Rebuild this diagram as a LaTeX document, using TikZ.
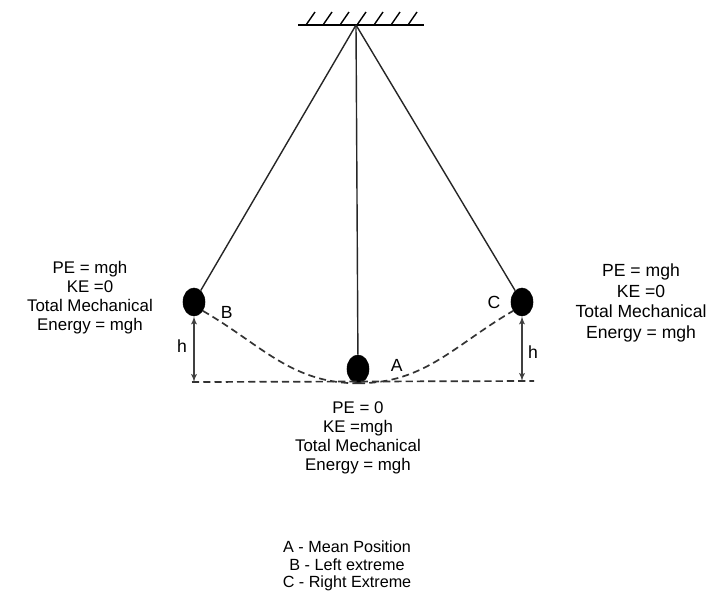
\documentclass[tikz,border=0pt]{standalone}
\usepackage{fontspec}
\setmainfont{Liberation Sans}
\usepackage{tikz}
\usetikzlibrary{shapes.geometric, arrows, positioning, calc}

\begin{document}
\begin{tikzpicture}[x=0.025cm, y=-0.025cm,
        bob/.style={ellipse, fill=black, draw=black, minimum width=0.55cm, minimum height=0.7cm, inner sep=0pt},
        infotext/.style={align=center, font=\fontsize{12}{13.5}\selectfont, inner sep=1pt},
        letter/.style={font=\fontsize{12.5}{14}\selectfont, inner sep=1pt},
        string/.style={draw=black!85, line width=1pt},
        path/.style={draw=black!80, dash pattern=on 5pt off 3pt, line width=1.2pt},
        hline/.style={draw=black!75, latex'-latex', line width=1pt}]
        \useasboundingbox (0,0) rectangle (711,595);

        % Soporte
        \coordinate (pivot) at (356,25);
        \draw[line width=1.3pt] (298,25) -- (424,25);
        \foreach \hx in {306,323,340,357,374,391,408} {
            \draw[line width=1pt] (\hx,25) -- (\hx+9,12);
        }

        % Masas
        \node [bob] (bobB) at (194,302) {};
        \node [bob] (bobC) at (522,302) {};
        \node [bob] (bobA) at (358,369) {};

        % Hilos
        \path [string] (pivot) -- (bobB);
        \path [string] (pivot) -- (bobC);
        \path [string] (pivot) -- (bobA);

        % Trayectoria y nivel de referencia
        \coordinate (baseL) at (192,382);
        \coordinate (baseR) at (534,381);
        \path [path] (baseL) -- (baseR);
        \path [path] (bobB.-45) to[out=-30, in=180] (bobA.south);
        \path [path] (bobA.south) to[out=0, in=-150] (bobC.-135);

        % Alturas
        \path [hline] (bobB.south) -- (bobB.south |- baseL);
        \path [hline] (bobC.south) -- (bobC.south |- baseR);
        \node [letter] at (182,346) {h};
        \node [letter] at (533,352) {h};

        % Letras
        \node [letter, right=0.35cm of bobB.east, yshift=-0.25cm] (labB) {B};
        \node [letter, left=0.22cm of bobC.west] (labC) {C};
        \node [letter, right=0.5cm of bobA.east, yshift=0.08cm] (labA) {A};

        % Textos de energia
        \node [infotext] (infoB) at (90,298) {PE = mgh\\KE =0\\Total Mechanical\\Energy = mgh};
        \node [infotext, font=\fontsize{12.5}{14.5}\selectfont] (infoC) at (641,303) {PE = mgh\\KE =0\\Total Mechanical\\Energy = mgh};
        \node [infotext, below=0.42cm of bobA.south] (infoA) {PE = 0\\KE =mgh\\Total Mechanical\\Energy = mgh};

        % Leyenda
        \node [infotext, font=\fontsize{11.5}{12.5}\selectfont] (legend) at (347,566) {A - Mean Position\\B - Left extreme\\C - Right Extreme};
\end{tikzpicture}
\end{document}
